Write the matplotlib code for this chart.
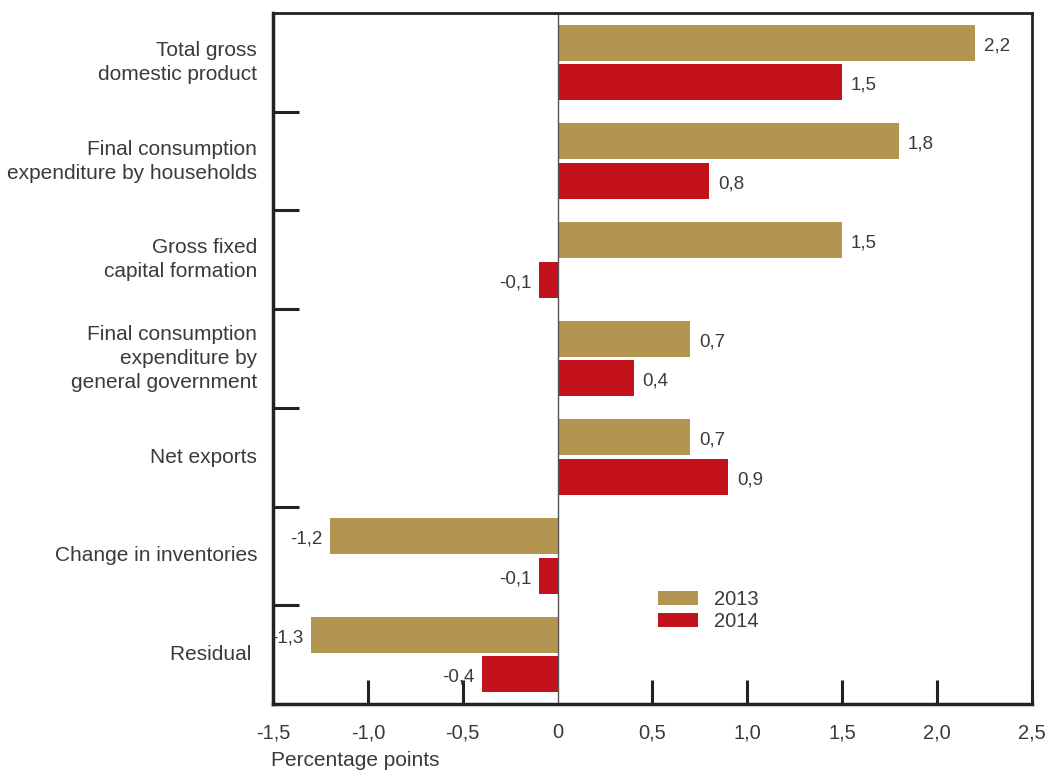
import matplotlib.pyplot as plt
import numpy as np

plt.rcParams['font.family'] = ['Liberation Sans', 'DejaVu Sans']

categories = [
    "Total gross\ndomestic product",
    "Final consumption\nexpenditure by households",
    "Gross fixed\ncapital formation",
    "Final consumption\nexpenditure by\ngeneral government",
    "Net exports",
    "Change in inventories",
    "Residual ",
]
values_2013 = [2.2, 1.8, 1.5, 0.7, 0.7, -1.2, -1.3]
values_2014 = [1.5, 0.8, -0.1, 0.4, 0.9, -0.1, -0.4]
xticks = [-1.5, -1.0, -0.5, 0, 0.5, 1.0, 1.5, 2.0, 2.5]

gold = "#B39552"
red = "#C3121B"
txt = "#3a3a3a"

fig = plt.figure(figsize=(10.48, 7.71), dpi=100)
ax = fig.add_axes([0.2605, 0.0869, 0.7242, 0.8962])

y = np.arange(len(categories))
h = 0.365
ax.barh(y - 0.2, values_2013, height=h, color=gold, label="2013")
ax.barh(y + 0.2, values_2014, height=h, color=red, label="2014")


def fmt(v):
    return f"{v:.1f}".replace(".", ",")


for yy, vals in ((y - 0.2, values_2013), (y + 0.2, values_2014)):
    for yi, v in zip(yy, vals):
        off = 0.045 if v >= 0 else -0.04
        ax.text(v + off, yi + 0.03, fmt(v), ha="left" if v >= 0 else "right",
                va="center", fontsize=13.5, color=txt)

ax.set_xlim(-1.5, 2.5)
ax.set_ylim(len(categories) - 0.5, -0.5)
ax.axvline(0, color="#555555", lw=1)

ax.set_xticks(xticks)
ax.set_xticklabels(["0" if t == 0 else fmt(t) for t in xticks], fontsize=14.5, color=txt)
ax.tick_params(axis="x", direction="in", length=17, width=2.2, pad=14, color="#222222")
# the zero line stands in for the tick at 0
ax.xaxis.get_major_ticks()[xticks.index(0)].tick1line.set_visible(False)

# group separators on the left spine, labels centred between them
ax.set_yticks(np.arange(0.5, len(categories) - 0.5, 1))
ax.set_yticklabels([])
ax.tick_params(axis="y", direction="in", length=19, width=2.2, color="#222222")
for yi, cat in zip(y, categories):
    ax.text(-0.021, yi, cat, transform=ax.get_yaxis_transform(), ha="right",
            va="center", fontsize=15, color=txt, linespacing=1.33)

for side in ("left", "bottom"):
    ax.spines[side].set_linewidth(2.5)
    ax.spines[side].set_color("#222222")
for side in ("top", "right"):
    ax.spines[side].set_linewidth(2)
    ax.spines[side].set_color("#222222")

fig.text(271 / 1048, 1 - 761 / 771, "Percentage points", ha="left", va="center",
         fontsize=15, color=txt)

ax.legend(loc="upper left", bbox_to_anchor=(0.507, 0.165), frameon=False,
          fontsize=14.5, handlelength=2.0, handleheight=0.65, labelspacing=0.15,
          handletextpad=0.8, borderpad=0, borderaxespad=0, labelcolor=txt)

fig.savefig("out.png", dpi=100)
